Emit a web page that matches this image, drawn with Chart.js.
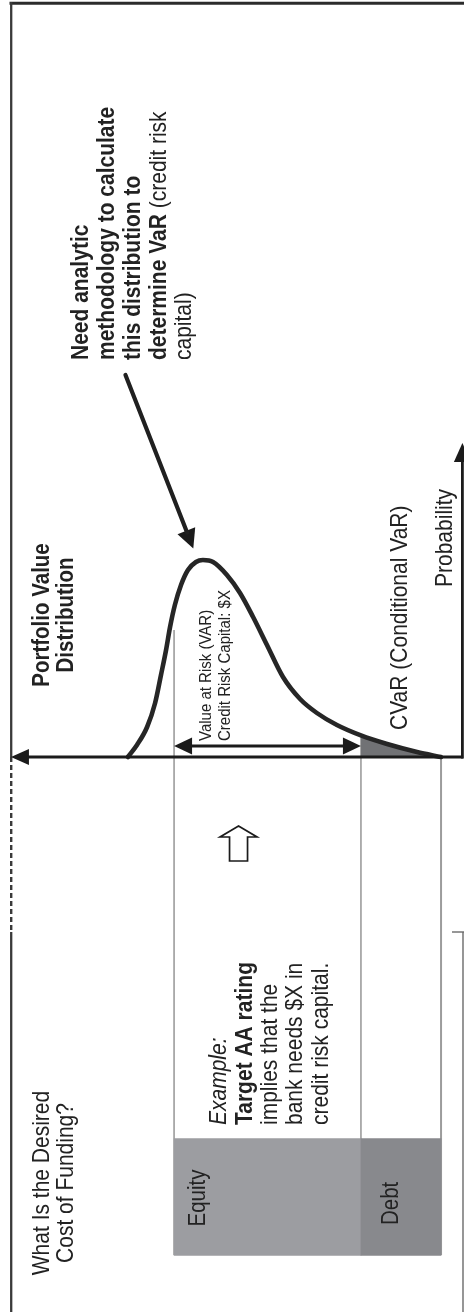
<!DOCTYPE html>
<html>
<head>
<meta charset="utf-8">
<title>Portfolio Value Distribution and Cost of Funding</title>
<script src="https://cdn.jsdelivr.net/npm/chart.js@4/dist/chart.umd.min.js"></script>
<style>
  html, body { margin: 0; padding: 0; background: #ffffff; }
  #wrap { width: 464px; height: 1312px; position: relative; overflow: hidden; }
  canvas { display: block; }
</style>
</head>
<body>
<div id="wrap"><canvas id="chart" width="464" height="1312"></canvas></div>
<script>
// ---- Data -------------------------------------------------------------
// Portfolio value (higher values toward the arrow) and its probability density
const portfolioValue = [117.3, 113.9, 110.1, 107.1, 104.9, 103.0, 101.5, 99.7, 97.4, 94.8, 91.8, 89.2,
                        85.4, 80.2, 75.3, 70.4, 65.2, 59.2, 52.8, 46.5, 39.0, 30.0, 20.2, 9.0, 0];
const probability    = [0, 0.6, 1.5, 2.7, 4.1, 5.35, 6.5, 7.6, 8.6, 9.35, 9.75, 9.85,
                        9.75, 9.1, 8.2, 7.0, 5.6, 4.0, 2.9, 2.2, 1.6, 1.08, 0.65, 0.25, 0];

// Key value levels
const expectedValue = 100;  // where the VaR measurement starts
const varLevel      = 30;   // VaR quantile, start of the CVaR tail
const worstValue    = 0;    // end of the loss tail

// Funding structure (value ranges covered by each source)
const fundingLabels = ['Equity', 'Debt'];
const fundingRanges = [[varLevel, expectedValue], [worstValue, varLevel]];

// ---- Layout (in scale units unless noted) -----------------------------
const layout = {
  valueMin: -8.6, valueMax: 165.2,      // value-axis window
  probMin: -27.75, probMax: 37.85,      // probability-axis window
  fundingRow: -22,                       // row of the Equity / Debt bar
  fundingThickness: 117,                 // px
  guideBottom: -24.9,                    // guide lines end at the bar's lower edge
  guideTopExpected: 6.35,
  valueAxisTip: 161.1,
  probAxisAt: -8.0,
  probAxisTip: 15.7,
  varArrowAt: 0.55,
  leaderFrom: [118.2, 19.1],
  leaderTo: [92.8, 10.43],
  upArrow: { at: 75.85, tip: -3.45, headBase: -4.0, bottom: -5.2 }
};

const densityAt = v => probability[portfolioValue.indexOf(v)];
const curvePoints = portfolioValue.map((v, i) => ({ x: v, y: probability[i] }));
const tailPoints = curvePoints.filter(p => p.x <= varLevel);
const guideLevels = [expectedValue, varLevel, worstValue];
const guideTops = [layout.guideTopExpected, densityAt(varLevel), 0];

// ---- Text ------------------------------------------------------------
const FONT = '"Liberation Sans", Arial, Helvetica, sans-serif';
const TEXT_STRETCH = 1.14;
const TEXT_COLOR = '#222222';

// x = baseline (page px), y = start (or centre) of the vertical text line
const notes = [
  { x: 87.5,  y: 360, runs: [['Need analytic', 'bold']] },
  { x: 113.5, y: 360, runs: [['methodology to calculate', 'bold']] },
  { x: 139.5, y: 360, runs: [['this distribution to', 'bold']] },
  { x: 165.5, y: 360, runs: [['determine VaR', 'bold'], [' (credit risk', 'normal']] },
  { x: 191,   y: 360, runs: [['capital)', 'normal']] },

  { x: 48.5, y: 615, align: 'center', size: 20.5, runs: [['Portfolio Value', 'bold']] },
  { x: 73,   y: 615, align: 'center', size: 20.5, runs: [['Distribution', 'bold']] },

  { x: 210.5, y: 741, size: 15, runs: [['Value at Risk (VAR)', 'normal']] },
  { x: 229.5, y: 741, size: 15, runs: [['Credit Risk Capital: $X', 'normal']] },

  { x: 406.5, y: 730, runs: [['CVaR (Conditional VaR)', 'normal']] },
  { x: 451.5, y: 587, runs: [['Probability', 'normal']] },

  { x: 48.5, y: 1183, align: 'center', runs: [['What Is the Desired', 'normal']] },
  { x: 73,   y: 1183, align: 'center', runs: [['Cost of Funding?', 'normal']] },

  { x: 226,   y: 1125, runs: [['Example:', 'italic']] },
  { x: 251.5, y: 1125, runs: [['Target AA rating', 'bold']] },
  { x: 277,   y: 1125, runs: [['implies that the', 'normal']] },
  { x: 302,   y: 1125, runs: [['bank needs $X in', 'normal']] },
  { x: 327.5, y: 1125, runs: [['credit risk capital.', 'normal']] },

  { x: 205,   y: 1226.5, size: 20.5, runs: [[fundingLabels[0], 'normal']] },
  { x: 397.5, y: 1225,   size: 20.5, runs: [[fundingLabels[1], 'normal']] }
];

function fontFor(style, size) {
  if (style === 'bold') return 'bold ' + size + 'px ' + FONT;
  if (style === 'italic') return 'italic ' + size + 'px ' + FONT;
  return size + 'px ' + FONT;
}

function drawVerticalText(ctx, note) {
  const size = note.size || 21;
  ctx.save();
  ctx.translate(note.x, note.y);
  ctx.rotate(-Math.PI / 2);
  ctx.scale(1, TEXT_STRETCH);
  ctx.fillStyle = TEXT_COLOR;
  ctx.textBaseline = 'alphabetic';
  ctx.textAlign = 'left';
  const widths = note.runs.map(([t, s]) => { ctx.font = fontFor(s, size); return ctx.measureText(t).width; });
  const total = widths.reduce((a, b) => a + b, 0);
  let u = note.align === 'center' ? -total / 2 : 0;
  note.runs.forEach(([t, s], i) => {
    ctx.font = fontFor(s, size);
    ctx.fillText(t, u, 0);
    u += widths[i];
  });
  ctx.restore();
}

// ---- Helpers for arrows -------------------------------------------------
function head(ctx, tip, from, len, half) {
  const dx = tip[0] - from[0], dy = tip[1] - from[1];
  const d = Math.hypot(dx, dy) || 1;
  const ux = dx / d, uy = dy / d;
  const bx = tip[0] - ux * len, by = tip[1] - uy * len;
  ctx.beginPath();
  ctx.moveTo(tip[0], tip[1]);
  ctx.lineTo(bx - uy * half, by + ux * half);
  ctx.lineTo(bx + uy * half, by - ux * half);
  ctx.closePath();
  ctx.fill();
  return [bx + ux * 2, by + uy * 2];
}

function segment(ctx, a, b, width, color) {
  ctx.beginPath();
  ctx.moveTo(a[0], a[1]);
  ctx.lineTo(b[0], b[1]);
  ctx.lineWidth = width;
  ctx.strokeStyle = color;
  ctx.stroke();
}

const overlay = {
  id: 'overlay',
  afterDraw(chart) {
    const ctx = chart.ctx;
    const xs = chart.scales.x, ys = chart.scales.y;
    const P = (v, p) => [xs.getPixelForValue(v), ys.getPixelForValue(p)];
    const ink = '#1b1b1b';
    ctx.save();
    ctx.fillStyle = ink;
    ctx.lineCap = 'butt';

    // page frame
    const base = ys.getPixelForValue(0);
    const frameBreak = 932;
    segment(ctx, [9.5, 3.2], [464, 3.2], 3, '#2b2b2b');
    segment(ctx, [11.2, 2], [11.2, base], 2.3, '#3a3a3a');
    ctx.setLineDash([5, 3]);
    segment(ctx, [11.2, base], [11.2, frameBreak], 2.4, '#3a3a3a');
    ctx.setLineDash([]);
    segment(ctx, [11.2, frameBreak], [11.2, 1312], 2.3, '#3a3a3a');
    segment(ctx, [463, frameBreak], [463, 1312], 1.4, '#6a6a6a');
    segment(ctx, [452, frameBreak], [464, frameBreak], 1.4, '#6a6a6a');

    // value axis (arrow toward higher portfolio value)
    const vStart = P(layout.probAxisAt - 0.3, 0);
    const vTip = P(layout.valueAxisTip, 0);
    const vBase = head(ctx, vTip, vStart, 18, 8);
    segment(ctx, vStart, vBase, 3, ink);

    // probability axis
    const pStart = P(layout.probAxisAt, 0);
    const pTip = P(layout.probAxisAt, layout.probAxisTip);
    const pBase = head(ctx, pTip, pStart, 19, 8.5);
    segment(ctx, [pStart[0], pStart[1] + 1.5], pBase, 2.8, ink);

    // VaR double arrow between expected value and VaR level
    const a1 = P(expectedValue, layout.varArrowAt);
    const a2 = P(varLevel, layout.varArrowAt);
    const b1 = head(ctx, a1, a2, 18, 8.5);
    const b2 = head(ctx, a2, a1, 18, 8.5);
    segment(ctx, b1, b2, 2.8, ink);

    // leader arrow pointing at the distribution
    const l1 = P(layout.leaderFrom[0], layout.leaderFrom[1]);
    const l2 = P(layout.leaderTo[0], layout.leaderTo[1]);
    const lb = head(ctx, l2, l1, 19, 9.5);
    ctx.lineCap = 'round';
    segment(ctx, l1, lb, 4.2, '#202020');
    ctx.lineCap = 'butt';

    // hollow arrow inside the capital box
    const ua = layout.upArrow;
    const cx = xs.getPixelForValue(ua.at);
    const tY = ys.getPixelForValue(ua.tip), hY = ys.getPixelForValue(ua.headBase), bY = ys.getPixelForValue(ua.bottom);
    ctx.beginPath();
    ctx.moveTo(cx, tY);
    ctx.lineTo(cx + 18.5, hY);
    ctx.lineTo(cx + 9, hY);
    ctx.lineTo(cx + 9, bY);
    ctx.lineTo(cx - 9, bY);
    ctx.lineTo(cx - 9, hY);
    ctx.lineTo(cx - 18.5, hY);
    ctx.closePath();
    ctx.fillStyle = '#ffffff';
    ctx.fill();
    ctx.lineWidth = 1.7;
    ctx.lineJoin = 'miter';
    ctx.strokeStyle = ink;
    ctx.stroke();

    // labels
    notes.forEach(n => drawVerticalText(ctx, n));
    ctx.restore();
  }
};

// ---- Chart ------------------------------------------------------------
const guideSets = guideLevels.map((lvl, i) => ({
  type: 'line',
  label: 'level ' + lvl,
  data: [{ x: lvl, y: guideTops[i] }, { x: lvl, y: layout.guideBottom }],
  borderColor: '#9c9c9c',
  borderWidth: i === 2 ? 2 : 1.6,
  pointRadius: 0,
  fill: false,
  order: 4
}));

new Chart(document.getElementById('chart'), {
  type: 'line',
  data: {
    datasets: [
      {
        type: 'line',
        label: 'Portfolio Value Distribution',
        data: curvePoints,
        borderColor: '#262626',
        borderWidth: 4.6,
        borderCapStyle: 'round',
        borderJoinStyle: 'round',
        cubicInterpolationMode: 'monotone',
        pointRadius: 0,
        fill: false,
        order: 0
      },
      {
        type: 'line',
        label: 'CVaR (Conditional VaR)',
        data: tailPoints,
        borderWidth: 0,
        borderColor: 'rgba(0,0,0,0)',
        backgroundColor: '#717275',
        cubicInterpolationMode: 'monotone',
        pointRadius: 0,
        fill: 'origin',
        order: 1
      },
      {
        type: 'bar',
        label: 'Funding',
        indexAxis: 'y',
        data: fundingRanges.map(r => ({ x: r, y: layout.fundingRow })),
        backgroundColor: ['#9c9da1', '#88898d'],
        borderWidth: 0,
        barThickness: layout.fundingThickness,
        order: 2
      },
      ...guideSets
    ]
  },
  options: {
    responsive: false,
    maintainAspectRatio: false,
    devicePixelRatio: 1,
    animation: false,
    events: [],
    layout: { padding: 0 },
    plugins: { legend: { display: false }, tooltip: { enabled: false }, title: { display: false } },
    scales: {
      x: { type: 'linear', reverse: true, min: layout.valueMin, max: layout.valueMax,
           display: false, offset: false, stacked: false, bounds: 'data' },
      y: { type: 'linear', min: layout.probMin, max: layout.probMax,
           display: false, offset: false, bounds: 'data' }
    }
  },
  plugins: [overlay]
});
</script>
</body>
</html>
